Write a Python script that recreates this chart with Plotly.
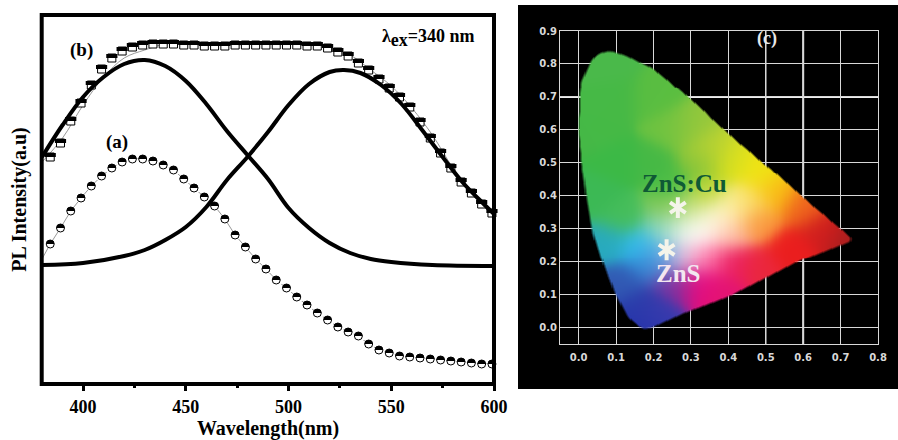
import numpy as np
import plotly.graph_objects as go

W, H = 898, 440

# ---- left panel data ----
wavelength = list(range(384, 600, 5))
pl_a = [140,156,173,186,198,208,216,222,225,225,
        223,219,214,205,196,187,178,165,149,137,
        125,115,104,96,87,79,71,64,57,52,
        48,40,34,31,28,27,26,25,24,23,
        22,21,20,20]
pl_b = [227,241,263,281,299,315,326,333,337,339,
        340,340,340,339,339,338,338,338,339,339,
        339,339,339,339,339,338,338,336,332,328,
        321,314,305,296,287,277,262,246,231,216,
        202,191,180,171]
fit_a_x = [380,384,389,394,399,404,409,414,419,424,429,434,439,444,449,454,459,464,469,474,479,484,489,494,499,504,509,514,519,524,529,534,539,544,549,554,559,564,569,574,579,584,589,594,600]
fit_a_y = [125,140,156,173,186,198,208,216,222,225,225,223,219,214,205,196,187,178,165,149,137,125,115,104,96,87,79,71,64,57,52,48,40,34,31,28,27,26,25,24,23,22,21,20,20]
fit_b_x = [380,390,400,410,420,430,440,450,470,490,510,520,530,540,550,560,570,580,590,600]
fit_b_y = [222,246,279,307,326,334,340,341,339,340,340,337,329,314,298,276,249,216,188,168]
peak1_x = [380,390,400,410,420,430,440,450,460,470,480,490,500,510,520,530,540,550,570,600]
peak1_y = [227,259,287,307,320,324,318,303,280,253,229,205,176,156,141,131,125,122,119,118]
peak2_x = [380,400,420,430,440,450,460,470,480,490,500,510,520,527,535,545,555,565,575,585,595,600]
peak2_y = [119,121,128,134,144,157,177,204,227,252,279,300,312,314,311,299,280,254,227,201,180,170]

# ---- right panel data ----
gamut_x = [0.0,0.002,0.007,0.034,0.056,0.083,0.123,0.198,0.292,0.398,0.505,0.596,0.735,0.595,0.398,0.29,0.198,0.171,0.131,0.096,0.064,0.037,0.021,0.008]
gamut_y = [0.59,0.70,0.75,0.812,0.834,0.84,0.827,0.787,0.70,0.59,0.488,0.397,0.267,0.206,0.094,0.049,0.003,-0.004,0.033,0.106,0.197,0.288,0.388,0.488]
ctrl_x = [0.08,0.05,0.10,0.10,0.20,0.20,0.25,0.30,0.35,0.404,0.324,0.484,0.53,0.60,0.652,0.72,0.565,0.476,0.412,0.385,0.32,0.25,0.20,0.17,0.118,0.163,0.163,0.076,0.118,0.05,0.235,0.297,0.342,0.449,0.404,0.476,0.404,0.316,0.27,0.358,0.225,0.278,0.342,0.19,0.23,0.25]
ctrl_y = [0.80,0.60,0.70,0.50,0.70,0.50,0.60,0.60,0.54,0.50,0.50,0.47,0.41,0.367,0.297,0.27,0.236,0.186,0.197,0.106,0.136,0.136,0.04,0.01,0.136,0.064,0.247,0.257,0.337,0.40,0.358,0.358,0.409,0.379,0.358,0.318,0.288,0.288,0.297,0.327,0.297,0.215,0.215,0.19,0.22,0.43]
ctrl_r = [75,70,70,60,90,70,110,150,190,220,130,240,250,240,210,170,235,235,235,228,230,120,60,35,50,40,50,40,70,60,130,200,190,250,255,250,255,255,245,255,120,250,255,50,100,75]
ctrl_g = [185,185,185,185,190,185,195,200,212,225,195,228,190,100,30,30,30,40,30,20,10,50,60,50,90,60,190,170,190,185,200,225,215,225,245,150,190,255,250,250,210,200,120,130,170,190]
ctrl_b = [75,70,70,70,65,70,65,60,50,30,60,20,20,30,30,30,30,60,100,115,130,160,175,170,180,170,240,190,90,85,80,130,50,100,180,60,170,255,240,230,190,225,170,210,230,70]
star_x = [0.265, 0.235]
star_y = [0.364, 0.236]

xticks_c = [0.0,0.1,0.2,0.3,0.4,0.5,0.6,0.7,0.8]
yticks_c = [0.0,0.1,0.2,0.3,0.4,0.5,0.6,0.7,0.8,0.9]
SERIF = "Liberation Serif"

def inside(px, py, vx, vy):
    vx, vy = np.asarray(vx), np.asarray(vy)
    res = np.zeros(px.shape, bool)
    n = len(vx)
    for i in range(n):
        j = (i - 1) % n
        c = ((vy[i] > py) != (vy[j] > py)) & (px < (vx[j]-vx[i])*(py-vy[i])/(vy[j]-vy[i]+1e-12)+vx[i])
        res ^= c
    return res

def soften(a, n=3):
    k = np.ones(2*n+1)/(2*n+1)
    a = np.apply_along_axis(lambda r: np.convolve(r, k, mode="same"), 0, a)
    return np.apply_along_axis(lambda r: np.convolve(r, k, mode="same"), 1, a)

step = 0.003
gx = np.arange(-0.02, 0.76, step)
gy = np.arange(0.86, -0.02, -step)
GX, GY = np.meshgrid(gx, gy)
cx, cy = np.array(ctrl_x), np.array(ctrl_y)
d2 = (GX[..., None]-cx)**2 + (GY[..., None]-cy)**2
w = np.exp(-d2/(2*0.037**2)) + 1e-9
w = w/w.sum(axis=-1, keepdims=True)
R = (w*np.array(ctrl_r)).sum(-1); G = (w*np.array(ctrl_g)).sum(-1); B = (w*np.array(ctrl_b)).sum(-1)
A = soften(inside(GX, GY, gamut_x, gamut_y).astype(float))
A = np.clip((A-0.3)/0.4, 0, 1)
img = np.dstack([R, G, B, A])
img_list = [[[int(p[0]), int(p[1]), int(p[2]), round(float(p[3]), 2)] for p in row] for row in img]

fig = go.Figure()
# Left panel
fig.add_trace(go.Scatter(x=fit_a_x, y=fit_a_y, mode="lines", line=dict(color="#999", width=1), showlegend=False))
fig.add_trace(go.Scatter(x=fit_b_x, y=fit_b_y, mode="lines", line=dict(color="#999", width=1, shape="spline"), showlegend=False))
# half-filled circles: black disc (y), white bar on the lower half (y4, 2 px lower), ring (y5)
fig.add_trace(go.Scatter(x=wavelength, y=pl_a, mode="markers", showlegend=False, cliponaxis=False,
                         marker=dict(symbol="circle", size=8, color="black", line=dict(width=0))))
fig.add_trace(go.Scatter(x=wavelength, y=pl_a, mode="markers", showlegend=False, cliponaxis=False, yaxis="y4",
                         marker=dict(symbol="line-ew", size=8, line=dict(color="white", width=4))))
fig.add_trace(go.Scatter(x=wavelength, y=pl_a, mode="markers", showlegend=False, cliponaxis=False, yaxis="y5",
                         marker=dict(symbol="circle-open", size=8, color="black", line=dict(color="black", width=1))))
# half-filled squares: white square with outline (y), black bar on the upper half (y3, 2 px higher)
fig.add_trace(go.Scatter(x=wavelength, y=pl_b, mode="markers", showlegend=False, cliponaxis=False,
                         marker=dict(symbol="square", size=8, color="white", line=dict(color="black", width=1))))
fig.add_trace(go.Scatter(x=wavelength, y=pl_b, mode="markers", showlegend=False, cliponaxis=False, yaxis="y3",
                         marker=dict(symbol="line-ew", size=8, line=dict(color="black", width=4))))
for xs, ys in ((peak1_x, peak1_y), (peak2_x, peak2_y)):
    fig.add_trace(go.Scatter(x=xs, y=ys, mode="lines", yaxis="y5", line=dict(color="black", width=4, shape="spline", smoothing=1.0), showlegend=False))

# Right panel
fig.add_trace(go.Image(z=img_list, colormodel="rgba", x0=float(gx[0]), y0=float(gy[0]), dx=step, dy=-step,
                       xaxis="x2", yaxis="y2", hoverinfo="skip"))
for sym in ("y-up", "y-down"):
    fig.add_trace(go.Scatter(x=star_x, y=star_y, mode="markers", xaxis="x2", yaxis="y2", showlegend=False,
                             marker=dict(symbol=sym, size=13, line=dict(color="#f4f4ea", width=4))))

def px(a): return a/W
def py(b): return 1-b/H

def note(text, x, y, size, color="black", **kw):
    return dict(text=text, xref="paper", yref="paper", x=px(x), y=py(y), xanchor=kw.get("xanchor", "center"), yanchor="middle",
                showarrow=False, font=dict(family=SERIF, size=size, color=color))

fig.update_layout(
    width=W, height=H, autosize=False, margin=dict(l=0, r=0, t=0, b=0, autoexpand=False),
    paper_bgcolor="white", plot_bgcolor="rgba(0,0,0,0)", showlegend=False,
    font=dict(family=SERIF, color="black"),
    xaxis=dict(domain=[px(42), px(494)], range=[380, 600], anchor="y", showgrid=False, zeroline=False, showline=False, automargin=False,
               tickmode="array", tickvals=[400,450,500,550,600], ticks="outside", ticklen=6, tickwidth=3, tickcolor="black",
               minor=dict(tickvals=[425,475,525,575], ticks="outside", ticklen=3, tickwidth=3, tickcolor="black"),
               tickfont=dict(family=SERIF, size=18, weight="bold"),
               title=dict(text="<b>Wavelength(nm)</b>", font=dict(family=SERIF, size=20), standoff=6)),
    yaxis=dict(domain=[py(384), py(15)], range=[0, 369], anchor="x", showgrid=False, zeroline=False, showline=False, automargin=False,
               showticklabels=False, ticks="",
               title=dict(text="<b>PL Intensity(a.u)</b>", font=dict(family=SERIF, size=20), standoff=9)),
    yaxis3=dict(domain=[py(384), py(15)], range=[-2, 367], overlaying="y", visible=False, anchor="x"),
    yaxis4=dict(domain=[py(384), py(15)], range=[2, 371], overlaying="y", visible=False, anchor="x"),
    yaxis5=dict(domain=[py(384), py(15)], range=[0, 369], overlaying="y", visible=False, anchor="x"),
    xaxis2=dict(domain=[px(560), px(878)], range=[-0.05, 0.8], anchor="y2", tickmode="array", tickvals=xticks_c, automargin=False,
                constrain="range",
                ticktext=[f"{v:.1f}" for v in xticks_c], showgrid=True, gridcolor="#d8d8d8", gridwidth=1, zeroline=False,
                showline=True, linecolor="#d8d8d8", linewidth=1, mirror=True, ticks="outside", ticklen=4, tickcolor="black",
                tickfont=dict(family="DejaVu Sans", size=10, color="#d8d8d8", weight="bold")),
    yaxis2=dict(domain=[py(344), py(31)], range=[-0.05, 0.9], anchor="x2", tickmode="array", tickvals=yticks_c, automargin=False,
                scaleanchor=False, constrain="range",
                ticktext=[f"{v:.1f}" for v in yticks_c], showgrid=True, gridcolor="#d8d8d8", gridwidth=1, zeroline=False,
                showline=True, linecolor="#d8d8d8", linewidth=1, mirror=True, ticks="",
                tickfont=dict(family="DejaVu Sans", size=10, color="#d8d8d8", weight="bold")),
    shapes=[
        dict(type="rect", xref="paper", yref="paper", x0=px(518), x1=px(898), y0=py(389), y1=py(5), fillcolor="black", line=dict(width=0), layer="below"),
        dict(type="rect", xref="paper", yref="paper", x0=px(41.7), x1=px(494), y0=py(384), y1=py(15), line=dict(color="black", width=4), layer="above"),
        dict(type="line", xref="x2", yref="paper", x0=0.6, x1=0.6, y0=py(344), y1=py(31), line=dict(color="#eee", width=2), layer="below"),
        dict(type="line", xref="x2", yref="paper", x0=0.5, x1=0.5, y0=py(344), y1=py(31), line=dict(color="#ddd", width=1.5), layer="below"),
        dict(type="line", xref="paper", yref="y2", x0=px(560), x1=px(878), y0=0.7, y1=0.7, line=dict(color="#eee", width=2), layer="below"),
    ],
    annotations=[
        note("<b>(b)</b>", 81, 50, 19),
        note("<b>(a)</b>", 117, 142, 19),
        note("<b>\u03bb<sub><span style='font-size:18px'>ex</span></sub>=340 nm</b>", 380, 38, 18, xanchor="left"),
        note("<b>(c)</b>", 767, 38, 18, "#e8e8e8"),
        note("<b>ZnS:Cu</b>", 684, 183, 25, "#0f5a35"),
        note("<b>ZnS</b>", 678, 273, 25, "#f3e6f0"),
    ],
)
fig.write_html("out.html", config={"displayModeBar": False}, post_script="document.body.style.margin='0';")
